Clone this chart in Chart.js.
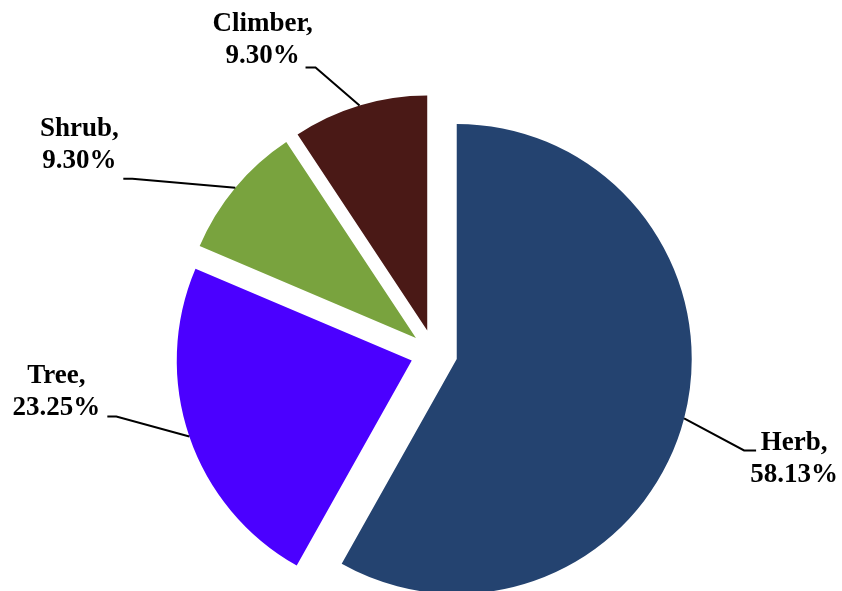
<!DOCTYPE html>
<html>
<head>
<meta charset="utf-8">
<script src="https://cdn.jsdelivr.net/npm/chart.js@4"></script>
<style>
  html, body { margin: 0; padding: 0; background: #fff; }
  #wrap { width: 842px; height: 591px; }
</style>
</head>
<body>
<div id="wrap"><canvas id="chartPie"></canvas></div>
<script>
// ── Data ──
const categories  = ["Herb", "Tree", "Shrub", "Climber"];
const shares      = [58.13, 23.25, 9.30, 9.30];
const shareLabels = ["58.13%", "23.25%", "9.30%", "9.30%"];

// ── Style ──
const sliceColors = ["#244370", "#4b00ff", "#79a33e", "#4a1916"];
const RADIUS  = 235;
const EXPLODE = 23.5;
const FONT    = "bold 27px 'Liberation Serif', 'Times New Roman', serif";
const LINE_H  = 32;

// label placement, relative to the point where the leader line touches the slice
const labelLayout = [
  { elbow: [60, 32],   end: [72, 32],   text: [110, 41] },
  { elbow: [-73, -20], end: [-82, -20], text: [-133, -44] },
  { elbow: [-103, -9], end: [-112, -9], text: [-156, -43] },
  { elbow: [-44, -38], end: [-54, -38], text: [-97, -65] }
];

// pulls every slice out from the centre along its mid angle
const explodePlugin = {
  id: "explode",
  beforeDatasetDraw(chart, args) {
    const { left, right, top, bottom } = chart.chartArea;
    const cx = (left + right) / 2, cy = (top + bottom) / 2;
    args.meta.data.forEach(arc => {
      const mid = (arc.startAngle + arc.endAngle) / 2;
      arc.x = cx + Math.cos(mid) * EXPLODE;
      arc.y = cy + Math.sin(mid) * EXPLODE;
    });
  }
};

// leader lines + two-line labels
const labelPlugin = {
  id: "pieLabels",
  afterDatasetsDraw(chart) {
    const ctx  = chart.ctx;
    const arcs = chart.getDatasetMeta(0).data;
    ctx.save();
    ctx.font = FONT;
    ctx.fillStyle = "#000";
    ctx.strokeStyle = "#000";
    ctx.lineWidth = 2;
    ctx.textAlign = "center";
    ctx.textBaseline = "middle";
    arcs.forEach((arc, i) => {
      const mid = (arc.startAngle + arc.endAngle) / 2;
      const ax = arc.x + Math.cos(mid) * arc.outerRadius;
      const ay = arc.y + Math.sin(mid) * arc.outerRadius;
      const lay = labelLayout[i];
      ctx.beginPath();
      ctx.moveTo(ax, ay);
      ctx.lineTo(ax + lay.elbow[0], ay + lay.elbow[1]);
      ctx.lineTo(ax + lay.end[0], ay + lay.end[1]);
      ctx.stroke();
      const tx = ax + lay.text[0], ty = ay + lay.text[1];
      ctx.fillText(categories[i] + ",", tx, ty - LINE_H / 2);
      ctx.fillText(shareLabels[i], tx, ty + LINE_H / 2);
    });
    ctx.restore();
  }
};

new Chart(document.getElementById("chartPie"), {
  type: "pie",
  data: {
    labels: categories,
    datasets: [{
      data: shares,
      backgroundColor: sliceColors,
      borderWidth: 0
    }]
  },
  options: {
    responsive: true,
    maintainAspectRatio: false,
    animation: false,
    radius: RADIUS,
    layout: { padding: { left: 26, right: 0, top: 115, bottom: 0 } },
    plugins: {
      legend: { display: false },
      tooltip: { enabled: false }
    }
  },
  plugins: [explodePlugin, labelPlugin]
});
</script>
</body>
</html>
